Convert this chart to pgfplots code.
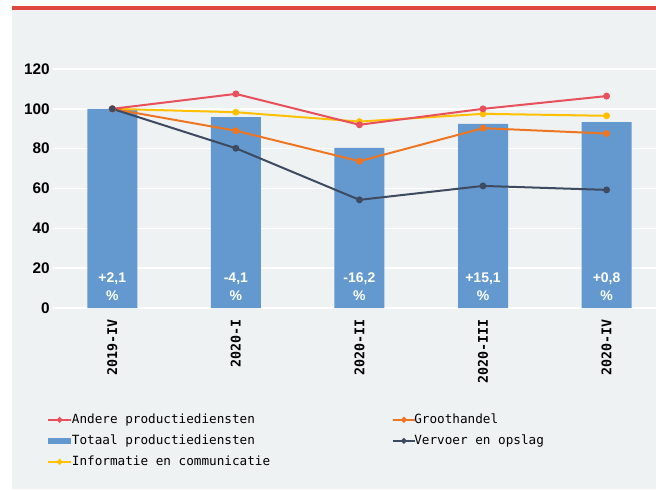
\documentclass[border=0pt]{standalone}
\usepackage{fontspec}
\setmainfont{Liberation Sans}
\newfontfamily\mono{DejaVu Sans Mono}
\usepackage{pgfplots}
\pgfplotsset{compat=1.18}
\definecolor{panel}{HTML}{EFF2F3}
\definecolor{topline}{HTML}{E0483F}
\definecolor{barblue}{HTML}{6399CE}
\definecolor{andere}{HTML}{E8505B}
\definecolor{groot}{HTML}{EE7623}
\definecolor{vervoer}{HTML}{3D4A5F}
\definecolor{info}{HTML}{FFC000}
\pgfplotsset{
  serie/.style={line width=1.5pt, mark=*, mark size=1.8pt, mark options={solid}},
}
\tikzset{pct/.style={font=\bfseries\fontsize{10.5}{13.5}\selectfont, text=white, align=center}}
\begin{document}
\begin{tikzpicture}
% picture bounds: 656 x 489 px, 1 px = 0.75pt, axis south west at px (53,308)
\useasboundingbox (-39.75pt,-135.75pt) rectangle (452.25pt,231pt);
\fill[white] (-39.75pt,-135.75pt) rectangle (452.25pt,231pt);
\fill[panel] (-30.75pt,-135.75pt) rectangle (452.25pt,225pt);
\fill[topline] (-30.75pt,223.75pt) rectangle (452.25pt,226.25pt);
\begin{axis}[
  scale only axis, width=452.25pt, height=179.25pt,
  xmin=-0.48, xmax=4.40, ymin=0, ymax=120, clip=false,
  axis line style={draw=none}, tick style={draw=none},
  ytick={0,20,...,120}, ymajorgrids,
  grid style={draw=white, line width=1.1pt},
  xtick={0,...,4},
  xticklabels={2019-IV, 2020-I, 2020-II, 2020-III, 2020-IV},
  xticklabel style={font=\mono\bfseries\fontsize{10}{12}\selectfont, rotate=90, anchor=east, xshift=-5pt},
  yticklabel style={font=\bfseries\fontsize{11.5}{13}\selectfont, xshift=1pt},
  /pgf/number format/assume math mode=true,
  legend columns=2,
  legend cell align=left,
  legend style={draw=none, fill=none, at={(-0.02,-0.42)}, anchor=north west,
    font=\mono\fontsize{9.5}{11}\selectfont, row sep=3pt,
    /tikz/every odd column/.append style={column sep=-3.5pt},
    /tikz/column 2/.style={column sep=89pt}},
]
\addplot[ybar, bar width=37.5pt, fill=barblue, draw=none, forget plot]
  coordinates {(0,100) (1,95.9) (2,80.4) (3,92.5) (4,93.3)};
\addplot[serie, color=info, forget plot]
  coordinates {(0,100) (1,98.3) (2,93.6) (3,97.5) (4,96.5)};
\addplot[serie, color=groot, forget plot]
  coordinates {(0,100) (1,89.0) (2,73.7) (3,90.3) (4,87.6)};
\addplot[serie, color=andere, forget plot]
  coordinates {(0,100) (1,107.5) (2,92.0) (3,100.0) (4,106.4)};
\addplot[serie, color=vervoer, forget plot]
  coordinates {(0,100) (1,80.2) (2,54.3) (3,61.3) (4,59.3)};

\addlegendimage{serie, color=andere, mark size=1.3pt}
\addlegendentry{Andere productiediensten}
\addlegendimage{serie, color=groot, mark size=1.3pt}
\addlegendentry{Groothandel}
\addlegendimage{line width=4.5pt, color=barblue}
\addlegendentry{Totaal productiediensten}
\addlegendimage{serie, color=vervoer, mark size=1.3pt}
\addlegendentry{Vervoer en opslag}
\addlegendimage{serie, color=info, mark size=1.3pt}
\addlegendentry{Informatie en communicatie}

\node[pct] at (axis cs:0,10.5) {+2,1\\\%};
\node[pct] at (axis cs:1,10.5) {-4,1\\\%};
\node[pct] at (axis cs:2,10.5) {-16,2\\\%};
\node[pct] at (axis cs:3,10.5) {+15,1\\\%};
\node[pct] at (axis cs:4,10.5) {+0,8\\\%};
\end{axis}
\end{tikzpicture}
\end{document}
